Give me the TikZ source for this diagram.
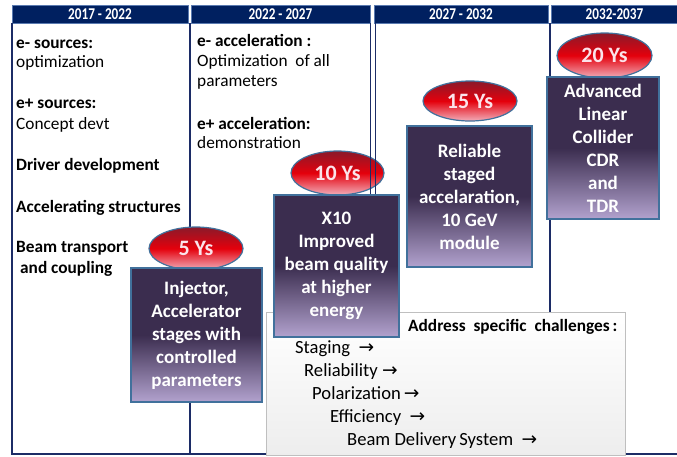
\documentclass[tikz,border=0pt]{standalone}
\usepackage{fontspec}
\setmainfont{Carlito}
\newfontfamily\arrowfont{DejaVu Sans}
\usetikzlibrary{shapes.geometric}
\definecolor{navy}{HTML}{002060}
\definecolor{hdredge}{HTML}{5A7AB0}
\definecolor{frame}{HTML}{1C2C66}
\definecolor{edge}{HTML}{41719C}
\definecolor{boxTop}{HTML}{3B2D4F}
\definecolor{boxBot}{HTML}{B2A2CE}
\definecolor{ellTop}{HTML}{8A1A2A}
\definecolor{ellMid}{HTML}{E4000C}
\definecolor{ellBot}{HTML}{F2AEBA}
\definecolor{ellText}{HTML}{FBE3EA}
\newcommand{\yearlabel}[1]{\scalebox{0.8}[1]{#1}}
\begin{document}
\begin{tikzpicture}[x=1pt, y=-1pt,
  hdr/.style={fill=navy, draw=hdredge, text=white, font=\bfseries\fontsize{16.5}{18}\selectfont, minimum height=18pt, inner sep=0pt},
  col/.style={draw=frame, line width=1.5pt},
  txt/.style={anchor=base west, inner sep=0pt, font=\fontsize{17.3}{20}\selectfont},
  btxt/.style={anchor=base west, inner sep=0pt, font=\bfseries\fontsize{17.3}{20}\selectfont},
  ctxt/.style={anchor=base west, inner sep=0pt, font=\fontsize{18.6}{20}\selectfont},
  yrs/.style={ellipse, draw=edge, line width=1.2pt, top color=ellTop, bottom color=ellBot, middle color=ellMid, text=ellText, font=\bfseries\fontsize{22}{24}\selectfont, inner sep=0pt},
  goal/.style={rectangle, draw=edge, line width=1.2pt, top color=boxTop, bottom color=boxBot, middle color=boxTop, text=white, align=center, font=\bfseries\fontsize{19}{23}\selectfont, inner sep=0pt}]
\fill[white] (0,0) rectangle (677,456);
\useasboundingbox (0,0) rectangle (677,456);
% year headers
\node[hdr, minimum width=176pt] (h1) at (100,14) {\yearlabel{2017 - 2022}};
\node[hdr, minimum width=179pt] (h2) at (280.5,14) {\yearlabel{2022 - 2027}};
\node[hdr, minimum width=174pt] (h3) at (461,14) {\yearlabel{2027 - 2032}};
\node[hdr, minimum width=127pt] (h4) at (614.5,14) {\yearlabel{2032-2037}};
% column frames
\draw[col] (12,23) -- (12,454) -- (266,454);
\draw[col] (190,23) -- (190,454);
\draw[col] (550,23) -- (550,312);
\draw[col] (625,454) -- (677,454);
% first column
\node[btxt] (es) at (16,48) {e- sources:};
\node[txt] (eso) at (16,67) {optimization};
\node[btxt] (ps) at (16,108) {e+ sources:};
\node[txt] (psc) at (16,129) {Concept devt};
\node[btxt] (drv) at (16,170) {Driver development};
\node[btxt] (acc) at (16,212) {Accelerating structures};
\node[btxt] (bt) at (16,252) {Beam transport};
\node[btxt] (bc) at (20,273) {and coupling};
% second column
\node[btxt] (ea) at (197,46) {e- acceleration :};
\node[txt] (eao) at (197,66) {Optimization\ \ of all};
\node[txt] (eap) at (197,86) {parameters};
\node[btxt] (pa) at (197,129) {e+ acceleration:};
\node[txt] (pad) at (197,148) {demonstration};
% challenges
\node[draw=black!25, top color=white, bottom color=black!7, minimum width=359pt, minimum height=143pt, inner sep=0pt] (chal) at (445.5,383.5) {};
\node[anchor=base west, inner sep=0pt, font=\bfseries\fontsize{17.3}{20}\selectfont] (addr) at (408,331) {Address\ \ specific\ \ challenges\,:};
\node[ctxt] (c1) at (295,353) {Staging\ \ {\arrowfont→}};
\node[ctxt] (c2) at (304,376) {Reliability {\arrowfont→}};
\node[ctxt] (c3) at (312,399) {Polarization\,{\arrowfont→}};
\node[ctxt] (c4) at (330,422) {Efficiency\ \ {\arrowfont→}};
\node[ctxt] (c5) at (347,445) {Beam Delivery\,System\ \ {\arrowfont→}};
% milestones
\node[yrs, minimum width=94pt, minimum height=43pt] (e5) at (196,248.5) {5 Ys};
\node[goal, minimum width=131pt, minimum height=134pt] (m5) at (196.5,335) {Injector,\\Accelerator\\stages with\\controlled\\parameters};
\node[yrs, minimum width=93pt, minimum height=44pt] (e10) at (337.5,173) {10 Ys};
\draw[col, line width=1pt] (370,23) -- (370,195);
\draw[col, line width=1pt] (375,23) -- (375,195);
\node[goal, minimum width=125pt, minimum height=142pt] (m10) at (336.5,266) {X10\\Improved\\beam quality\\at higher\\energy};
\node[yrs, minimum width=94pt, minimum height=40pt] (e15) at (470,101) {15 Ys};
\node[goal, minimum width=125pt, minimum height=141pt] (m15) at (469.5,196.5) {Reliable\\staged\\accelaration,\\10 GeV\\module};
\node[yrs, minimum width=95pt, minimum height=45pt] (e20) at (604.5,55.5) {20 Ys};
\node[goal, minimum width=112pt, minimum height=142pt] (m20) at (603,148) {Advanced\\Linear\\Collider\\CDR\\and\\TDR};
\end{tikzpicture}
\end{document}
